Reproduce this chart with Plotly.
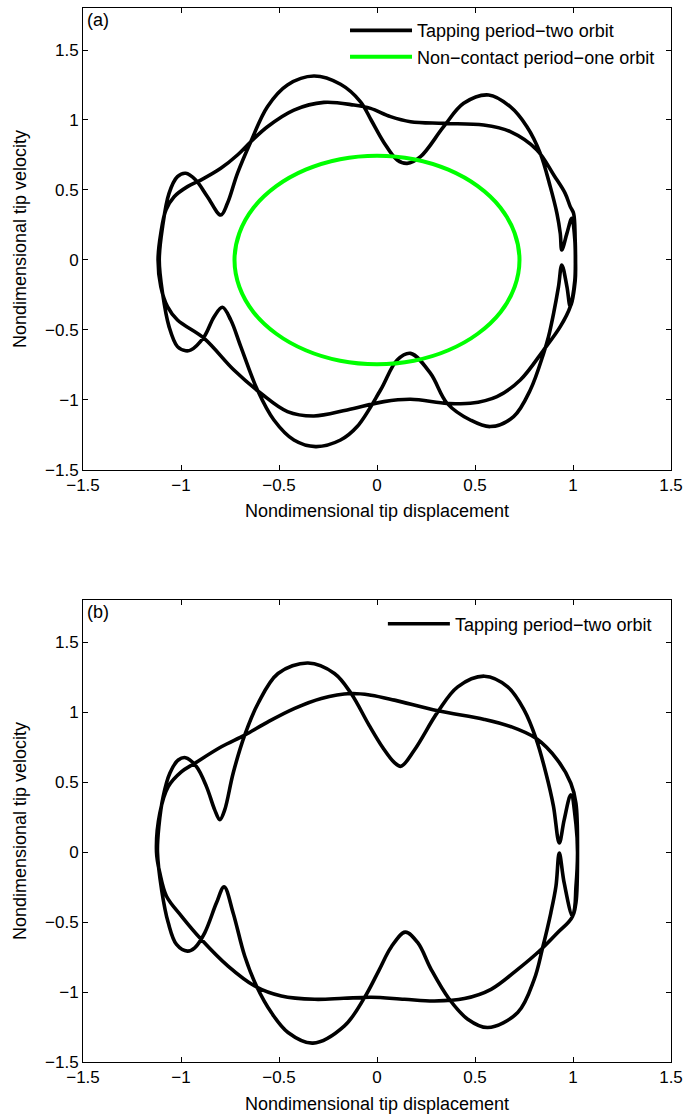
import plotly.graph_objects as go

TICKS = [-1.5, -1.0, -0.5, 0.0, 0.5, 1.0, 1.5]
X_RANGE = [-1.5, 1.5]
Y_RANGE = [-1.5, 1.8]

# ---------------- panel (a) ----------------
# tapping period-two orbit, followed branch by branch (clockwise)
a_osc_up_x = [-1.111, -1.094, -1.061, -1.018, -0.976, -0.925, -0.865, -0.797, -0.763, -0.712,
              -0.644, -0.559, -0.457, -0.322, -0.186, -0.084, -0.030, 0.035, 0.103, 0.154,
              0.222, 0.340, 0.442, 0.570, 0.680, 0.765, 0.833, 0.884, 0.918, 0.935,
              0.943, 0.969, 0.994, 1.009, 1.012, 1.009, 0.986]
a_osc_up_y = [0.000, 0.238, 0.476, 0.595, 0.619, 0.571, 0.452, 0.321, 0.405, 0.619,
              0.845, 1.095, 1.250, 1.314, 1.255, 1.130, 1.000, 0.840, 0.714, 0.690,
              0.738, 0.952, 1.119, 1.179, 1.095, 0.952, 0.762, 0.524, 0.333, 0.190,
              0.071, 0.190, 0.298, 0.150, 0.000, -0.150, -0.333]

a_smooth_lo_x = [0.935, 0.850, 0.731, 0.612, 0.476, 0.358, 0.171, 0.035, -0.152, -0.322,
                 -0.457, -0.593, -0.730, -0.882, -1.018, -1.069, -1.103, -1.117]
a_smooth_lo_y = [-0.476, -0.643, -0.857, -0.976, -1.024, -1.024, -0.995, -1.012, -1.071, -1.114,
                 -1.083, -0.952, -0.786, -0.560, -0.429, -0.333, -0.190, 0.000]

a_smooth_up_x = [-1.103, -1.077, -1.035, -0.967, -0.899, -0.797, -0.712, -0.644, -0.559, -0.424,
                 -0.271, -0.118, -0.033, 0.069, 0.171, 0.340, 0.544, 0.680, 0.816, 0.905,
                 0.960, 0.986, 1.003, 1.011, 1.013, 1.011, 0.986]
a_smooth_up_y = [0.190, 0.357, 0.452, 0.524, 0.571, 0.655, 0.750, 0.845, 0.952, 1.071,
                 1.126, 1.107, 1.083, 1.024, 0.988, 0.976, 0.964, 0.917, 0.786, 0.600,
                 0.476, 0.381, 0.333, 0.150, 0.000, -0.150, -0.333]

a_osc_lo_x = [0.969, 0.943, 0.926, 0.901, 0.875, 0.850, 0.782, 0.697, 0.578, 0.476,
              0.358, 0.273, 0.171, 0.103, 0.018, -0.101, -0.186, -0.313, -0.424,
              -0.526, -0.610, -0.695, -0.746, -0.789, -0.831, -0.882, -0.950, -0.976, -1.018,
              -1.061, -1.094, -1.111]
a_osc_lo_y = [-0.190, -0.036, -0.190, -0.381, -0.548, -0.667, -0.929, -1.119, -1.190, -1.143,
              -1.024, -0.810, -0.667, -0.714, -0.929, -1.190, -1.286, -1.333, -1.286,
              -1.143, -0.929, -0.619, -0.429, -0.338, -0.405, -0.548, -0.643, -0.648, -0.619,
              -0.476, -0.238, 0.000]

# non-contact period-one orbit
a_free_x = [0.727, 0.702, 0.630, 0.514, 0.364, 0.188, 0.000, -0.188, -0.364, -0.514, -0.630, -0.702,
            -0.727, -0.702, -0.630, -0.514, -0.364, -0.188, 0.000, 0.188, 0.364, 0.514, 0.630, 0.702,
            0.727]
a_free_y = [0.000, 0.193, 0.373, 0.527, 0.645, 0.720, 0.745, 0.720, 0.645, 0.527, 0.373, 0.193,
            0.000, -0.193, -0.373, -0.527, -0.645, -0.720, -0.745, -0.720, -0.645, -0.527, -0.373, -0.193,
            0.000]

# ---------------- panel (b) ----------------
b_osc_up_x = [-1.120, -1.113, -1.091, -1.057, -1.014, -0.977, -0.921, -0.870, -0.828, -0.802,
              -0.777, -0.734, -0.675, -0.607, -0.505, -0.352, -0.217, -0.132, -0.040, 0.030,
              0.088, 0.122, 0.191, 0.310, 0.412, 0.548, 0.667, 0.751, 0.811, 0.862, 0.900,
              0.930, 0.955, 0.989, 1.015, 1.023, 1.015, 0.998]
b_osc_up_y = [0.000, 0.182, 0.396, 0.563, 0.657, 0.674, 0.610, 0.467, 0.301, 0.230,
              0.301, 0.563, 0.835, 1.061, 1.275, 1.350, 1.275, 1.132, 0.905, 0.745,
              0.640, 0.612, 0.729, 1.001, 1.180, 1.256, 1.180, 1.014, 0.812, 0.563, 0.330,
              0.064, 0.230, 0.408, 0.200, 0.000, -0.250, -0.459]

b_smooth_lo_x = [0.921, 0.837, 0.718, 0.582, 0.446, 0.293, 0.140, -0.030, -0.170, -0.318,
                 -0.488, -0.624, -0.760, -0.896, -0.997, -1.074, -1.108, -1.125]
b_smooth_lo_y = [-0.577, -0.696, -0.838, -0.981, -1.047, -1.064, -1.052, -1.038, -1.045, -1.052,
                 -1.028, -0.957, -0.815, -0.625, -0.459, -0.316, -0.150, 0.000]

b_smooth_up_x = [-1.108, -1.065, -0.997, -0.930, -0.794, -0.675, -0.556, -0.420, -0.284, -0.132,
                 -0.030, 0.089, 0.310, 0.548, 0.684, 0.811, 0.921, 0.989, 1.015, 1.023,
                 1.015, 0.998]
b_smooth_up_y = [0.278, 0.467, 0.574, 0.634, 0.752, 0.835, 0.930, 1.026, 1.097, 1.132,
                 1.120, 1.085, 1.009, 0.947, 0.895, 0.812, 0.657, 0.491, 0.349, 0.000,
                 -0.363, -0.459]

b_osc_lo_x = [0.955, 0.930, 0.913, 0.887, 0.845, 0.802, 0.718, 0.565, 0.463, 0.369,
              0.276, 0.208, 0.144, 0.072, 0.010, -0.064, -0.166, -0.327, -0.454, -0.539,
              -0.615, -0.675, -0.734, -0.780, -0.819, -0.879, -0.930, -0.967, -1.023, -1.065,
              -1.099, -1.120]
b_osc_lo_y = [-0.221, -0.007, -0.245, -0.434, -0.684, -0.910, -1.147, -1.254, -1.194, -1.052,
              -0.838, -0.648, -0.572, -0.680, -0.845, -1.040, -1.242, -1.365, -1.289, -1.147,
              -0.957, -0.743, -0.435, -0.249, -0.363, -0.577, -0.684, -0.708, -0.660, -0.506,
              -0.269, 0.000]

LABEL_TAP = "Tapping period\u2212two orbit"
LABEL_FREE = "Non\u2212contact period\u2212one orbit"

FONT = "Liberation Sans, Arial, Helvetica, sans-serif"
BLACK = "#000000"
GREEN = "#00ff00"
TEXT_SIZE = 18
TICK_SIZE = 17

a_x = a_osc_up_x + a_smooth_lo_x + a_smooth_up_x + a_osc_lo_x
a_y = a_osc_up_y + a_smooth_lo_y + a_smooth_up_y + a_osc_lo_y
b_x = b_osc_up_x + b_smooth_lo_x + b_smooth_up_x + b_osc_lo_x
b_y = b_osc_up_y + b_smooth_lo_y + b_smooth_up_y + b_osc_lo_y

fig = go.Figure()
fig.add_trace(go.Scatter(x=a_x, y=a_y, mode="lines", name=LABEL_TAP,
                         line=dict(color=BLACK, width=3.6, shape="spline", smoothing=1.0),
                         xaxis="x", yaxis="y", legend="legend"))
fig.add_trace(go.Scatter(x=a_free_x, y=a_free_y, mode="lines", name=LABEL_FREE,
                         line=dict(color=GREEN, width=4, shape="spline", smoothing=1.0),
                         xaxis="x", yaxis="y", legend="legend"))
fig.add_trace(go.Scatter(x=b_x, y=b_y, mode="lines", name=LABEL_TAP,
                         line=dict(color=BLACK, width=3.6, shape="spline", smoothing=1.0),
                         xaxis="x2", yaxis="y2", legend="legend2"))

axis_common = dict(
    tickmode="array", tickvals=TICKS, ticks="inside", ticklen=5, tickwidth=1, tickcolor=BLACK,
    showline=True, linecolor=BLACK, linewidth=1, mirror="ticks", showgrid=False, zeroline=False,
    tickfont=dict(family=FONT, size=TICK_SIZE, color=BLACK), automargin=False,
)

x_title = dict(text="Nondimensional tip displacement", standoff=10,
               font=dict(family=FONT, size=TEXT_SIZE))
y_title = dict(text="Nondimensional tip velocity", standoff=13,
               font=dict(family=FONT, size=TEXT_SIZE))

fig.update_layout(
    width=684, height=1115,
    margin=dict(l=83, r=13, t=8, b=53),
    paper_bgcolor="white", plot_bgcolor="white",
    font=dict(family=FONT, size=TEXT_SIZE, color=BLACK),
    xaxis=dict(domain=[0, 1], range=X_RANGE, anchor="y", title=x_title, **axis_common),
    yaxis=dict(domain=[0.5617, 1], range=Y_RANGE, anchor="x", title=y_title, **axis_common),
    xaxis2=dict(domain=[0, 1], range=X_RANGE, anchor="y2", title=x_title, **axis_common),
    yaxis2=dict(domain=[0, 0.4383], range=Y_RANGE, anchor="x2", title=y_title, **axis_common),
    legend=dict(x=0.4456, y=0.996, xanchor="left", yanchor="top", bgcolor="rgba(0,0,0,0)",
                borderwidth=0, itemwidth=62, font=dict(family=FONT, size=TEXT_SIZE)),
    legend2=dict(x=0.510, y=0.433, xanchor="left", yanchor="top", bgcolor="rgba(0,0,0,0)",
                 borderwidth=0, itemwidth=62, font=dict(family=FONT, size=TEXT_SIZE)),
    showlegend=True,
)

fig.add_annotation(text="(a)", xref="x domain", yref="y domain", x=0.003, y=0.974,
                   xanchor="left", yanchor="middle", showarrow=False,
                   font=dict(family=FONT, size=TEXT_SIZE, color=BLACK))
fig.add_annotation(text="(b)", xref="x2 domain", yref="y2 domain", x=0.003, y=0.974,
                   xanchor="left", yanchor="middle", showarrow=False,
                   font=dict(family=FONT, size=TEXT_SIZE, color=BLACK))

fig.write_html("out.html")
